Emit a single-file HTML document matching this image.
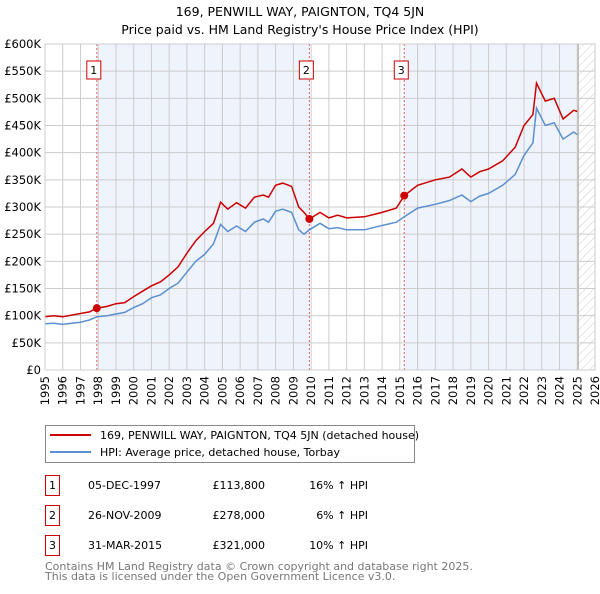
<!DOCTYPE html>
<html><head><meta charset="utf-8"><style>
body{margin:0;background:#fff;font-family:"DejaVu Sans","Liberation Sans",sans-serif;}
svg text{font-family:"DejaVu Sans","Liberation Sans",sans-serif;}
</style></head><body>
<svg id="chart" width="600" height="590" xmlns="http://www.w3.org/2000/svg">
<text x="300" y="16" text-anchor="middle" font-size="12.5">169, PENWILL WAY, PAIGNTON, TQ4 5JN</text>
<text x="300" y="34" text-anchor="middle" font-size="12.5">Price paid vs. HM Land Registry's House Price Index (HPI)</text>
<defs><pattern id="hatch" width="6" height="6" patternUnits="userSpaceOnUse" patternTransform="rotate(45)"><line x1="0" y1="0" x2="0" y2="6" stroke="#ccc" stroke-width="1"/></pattern></defs>
<g id="bg"></g><g id="grid"></g><g id="marks"></g><g id="axes"></g>
<rect x="45.5" y="425.5" width="369" height="37" fill="#fff" stroke="#888"/>
<line x1="50" y1="435" x2="91" y2="435" stroke="#cc0000" stroke-width="2"/>
<text x="100" y="439" font-size="11">169, PENWILL WAY, PAIGNTON, TQ4 5JN (detached house)</text>
<line x1="50" y1="452" x2="91" y2="452" stroke="#5b8fd0" stroke-width="2"/>
<text x="100" y="456" font-size="11">HPI: Average price, detached house, Torbay</text>
<g id="table" font-size="11"></g>
<text x="45" y="570" font-size="11" fill="#777">Contains HM Land Registry data © Crown copyright and database right 2025.</text>
<text x="45" y="580" font-size="11" fill="#777">This data is licensed under the Open Government Licence v3.0.</text>
</svg>
<script>
const years=[1995,1995.5,1996,1996.5,1997,1997.5,1997.92,1998.5,1999,1999.5,2000,2000.5,2001,2001.5,2002,2002.5,2003,2003.5,2004,2004.5,2004.9,2005.3,2005.8,2006.3,2006.8,2007.3,2007.6,2008,2008.4,2008.9,2009.3,2009.6,2009.9,2010.5,2011,2011.5,2012,2013,2014,2014.8,2015.25,2016,2017,2017.8,2018.5,2019,2019.5,2020,2020.8,2021.5,2022,2022.5,2022.7,2023.2,2023.7,2024.2,2024.8,2025];
const priceSeries=[98,100,98,101,104,107,114,117,122,124,135,145,155,162,175,190,215,238,255,270,309,296,308,298,318,322,318,340,344,338,300,290,278,290,280,285,280,282,290,298,321,340,350,355,370,355,365,370,385,410,450,470,528,495,500,462,478,476];
const hpiSeries=[85,86,84,86,88,92,98,100,103,106,115,122,133,138,150,160,180,200,213,232,268,255,265,255,272,278,272,292,296,290,258,250,258,270,260,262,258,258,266,272,282,298,305,312,322,310,320,325,340,360,395,418,482,450,455,425,438,433];
const yTicks=[0,50,100,150,200,250,300,350,400,450,500,550,600];
const yTickLabels=["£0","£50K","£100K","£150K","£200K","£250K","£300K","£350K","£400K","£450K","£500K","£550K","£600K"];
const xTicks=[1995,1996,1997,1998,1999,2000,2001,2002,2003,2004,2005,2006,2007,2008,2009,2010,2011,2012,2013,2014,2015,2016,2017,2018,2019,2020,2021,2022,2023,2024,2025,2026];
const saleYears=[1997.92,2009.9,2015.25];
const salePrices=[113.8,278,321];
const saleLabels=["1","2","3"];
const saleDates=["05-DEC-1997","26-NOV-2009","31-MAR-2015"];
const salePriceText=["£113,800","£278,000","£321,000"];
const saleHpiText=["16% ↑ HPI","6% ↑ HPI","10% ↑ HPI"];
const X0=45,X1=595,Y0=370,Y1=44;
const xs=v=>X0+(v-1995)/(2026-1995)*(X1-X0);
const ys=v=>Y0-v/600*(Y0-Y1);
const NS="http://www.w3.org/2000/svg";
function mk(tag,attrs,parent,txt){const e=document.createElementNS(NS,tag);for(const k in attrs)e.setAttribute(k,attrs[k]);if(txt!==undefined)e.textContent=txt;document.getElementById(parent).appendChild(e);return e;}
let r=mk('rect',{x:X0,y:Y1,width:X1-X0,height:Y0-Y1,fill:'#fff'},'bg');


r=mk('rect',{x:xs(saleYears[0]),y:Y1,width:xs(saleYears[1])-xs(saleYears[0]),height:Y0-Y1,fill:'#eef3fc'},'bg');


r=mk('rect',{x:xs(saleYears[2]),y:Y1,width:xs(2025.05)-xs(saleYears[2]),height:Y0-Y1,fill:'#eef3fc'},'bg');


r=mk('rect',{x:xs(2025.05),y:Y1,width:X1-xs(2025.05),height:Y0-Y1,fill:'url(#hatch)'},'bg');


mk('line',{x1:xs(2025.05),x2:xs(2025.05),y1:Y1,y2:Y0,stroke:'#999','stroke-width':1},'bg');
yTicks.forEach((t,i)=>{
 let l=mk('line',{x1:X0,x2:X1,y1:ys(t),y2:ys(t),stroke:'#ccc'},'grid');
 
 
 let tx=mk('text',{x:X0-4,y:ys(t)+4,'text-anchor':'end','font-size':11.5},'axes',yTickLabels[i]);
 
 
});
xTicks.forEach(t=>{
 let l=mk('line',{x1:xs(t),x2:xs(t),y1:Y1,y2:Y0,stroke:'#ccc'},'grid');
 
 
 let tx=mk('text',{x:xs(t)+4,y:Y0+6,'text-anchor':'end','font-size':11.5,transform:`rotate(-90 ${xs(t)+4} ${Y0+6})`},'axes',String(t));
 
 
});
saleYears.forEach((s,i)=>{
 let l=mk('line',{x1:xs(s),x2:xs(s),y1:Y1,y2:Y0,stroke:'#e06060','stroke-dasharray':'2,2'},'marks');
 
 
});
function path(arr){return arr.map((v,i)=>(i?'L':'M')+xs(years[i]).toFixed(1)+','+ys(v).toFixed(1)).join('');}
let p=mk('path',{d:path(hpiSeries),fill:'none',stroke:'#5b8fd0','stroke-width':1.5},'marks');


p=mk('path',{d:path(priceSeries),fill:'none',stroke:'#cc0000','stroke-width':1.5},'marks');


saleYears.forEach((s,i)=>{
 let c=mk('circle',{cx:xs(s),cy:ys(salePrices[i]),r:4,fill:'#cc0000'},'marks');
 
 
 let bx=xs(s)-3;
 let b=mk('rect',{x:bx-7,y:61,width:14,height:18,fill:'#fff',stroke:'#cc0000'},'marks');
 
 
 let t=mk('text',{x:bx,y:74,'text-anchor':'middle','font-size':11},'marks',saleLabels[i]);
 
 
 const ry=475+30*i;
 b=mk('rect',{x:45.5,y:ry+0.5,width:14,height:20,fill:'none',stroke:'#cc0000'},'table');
 
 
 t=mk('text',{x:52.5,y:ry+14,'text-anchor':'middle'},'table',saleLabels[i]);
 
 
 t=mk('text',{x:88,y:ry+14},'table',saleDates[i]);
 
 
 t=mk('text',{x:265,y:ry+14,'text-anchor':'end'},'table',salePriceText[i]);
 
 
 t=mk('text',{x:368,y:ry+14,'text-anchor':'end'},'table',saleHpiText[i]);
 
 
});
mk('rect',{x:X0,y:Y1,width:X1-X0,height:Y0-Y1,fill:'none',stroke:'#ccc'},'axes');
</script>
</body></html>
